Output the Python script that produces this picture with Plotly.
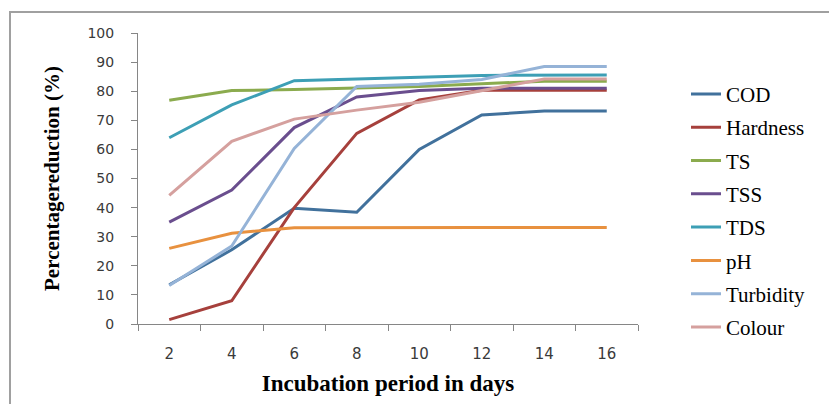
import plotly.graph_objects as go

days = ["2", "4", "6", "8", "10", "12", "14", "16"]
cod = [13.5, 25.5, 39.8, 38.4, 60, 71.8, 73.2, 73.2]
hardness = [1.5, 8, 40, 65.5, 77, 80.3, 80.3, 80.3]
ts = [76.9, 80.2, 80.6, 81, 81.6, 82.6, 83.4, 83.4]
tss = [35, 46, 67.5, 78, 80.2, 81, 81, 81]
tds = [64, 75.3, 83.6, 84.3, 84.8, 85.4, 85.6, 85.6]
ph = [26, 31.2, 33.1, 33.2, 33.2, 33.2, 33.2, 33.2]
turbidity = [13.2, 26.8, 60.3, 81.6, 82.4, 84, 88.5, 88.5]
colour = [44.2, 62.8, 70.4, 73.5, 76.2, 80.2, 84.2, 84.2]

series = [
    ("COD", cod, "#41719C"),
    ("Hardness", hardness, "#A6403C"),
    ("TS", ts, "#8BAB4E"),
    ("TSS", tss, "#6A4E8E"),
    ("TDS", tds, "#3D9FB5"),
    ("pH", ph, "#E8913F"),
    ("Turbidity", turbidity, "#95B3D7"),
    ("Colour", colour, "#D5A09E"),
]

SERIF = "Liberation Serif, Times New Roman, serif"

fig = go.Figure()
for name, vals, col in series:
    fig.add_trace(go.Scatter(
        x=days, y=vals, name=name, mode="lines",
        line=dict(color=col, width=3),
        legendgroup=name,
    ))

fig.update_layout(
    width=829, height=404,
    margin=dict(l=138, r=191, t=33, b=80),
    paper_bgcolor="white", plot_bgcolor="white",
    font=dict(family=SERIF),
    showlegend=True,
    legend=dict(
        x=1.096, y=0.86, xanchor="left", yanchor="top",
        font=dict(family=SERIF, size=21, color="#000000"),
        tracegroupgap=3,
        bgcolor="rgba(0,0,0,0)",
        itemwidth=30,
    ),
    xaxis=dict(
        type="category", range=[-0.5, 7.5],
        showline=True, linecolor="#868686", linewidth=1,
        ticks="outside", ticklen=6, tickcolor="#868686",
        tickson="boundaries", showgrid=False, zeroline=False,
        tickfont=dict(family="DejaVu Sans", size=15, color="#3a3a3a"),
        ticklabelstandoff=16,
        title=dict(text="<b>Incubation period in days</b>",
                   font=dict(family=SERIF, size=23, color="#000000"),
                   standoff=12),
    ),
    yaxis=dict(
        range=[0, 100], dtick=10,
        showline=True, linecolor="#868686", linewidth=1,
        ticks="outside", ticklen=6, tickcolor="#868686",
        showgrid=False, zeroline=False,
        tickfont=dict(family="DejaVu Sans", size=14, color="#3a3a3a"),
        ticklabelstandoff=14,
        title=dict(text="<b>Percentagereduction (%)</b>",
                   font=dict(family=SERIF, size=21, color="#000000"),
                   standoff=22),
    ),
    shapes=[dict(
        type="rect", xref="paper", yref="paper",
        x0=(10 - 138) / 500, x1=1.6, y0=-0.6, y1=1 + (33 - 12) / 291,
        line=dict(color="#A0A0A0", width=2), fillcolor="rgba(0,0,0,0)",
        layer="below",
    )],
)

fig.write_html("out.html")
